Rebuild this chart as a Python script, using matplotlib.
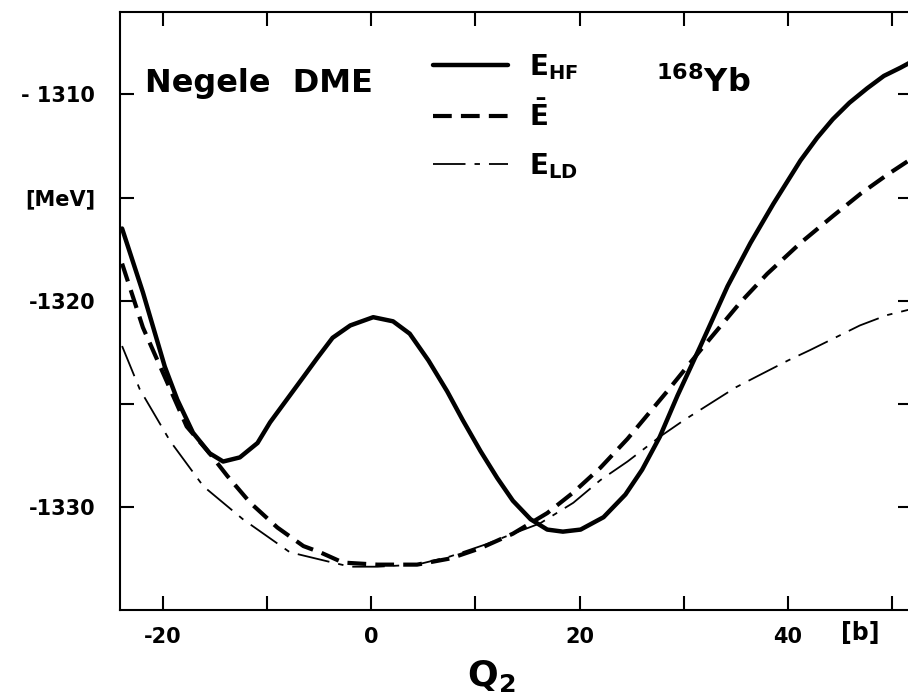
import matplotlib
matplotlib.use('Agg')
import matplotlib.pyplot as plt

plt.rcParams['font.family'] = ['DejaVu Sans']
plt.rcParams['font.weight'] = 'bold'
plt.rcParams['mathtext.fontset'] = 'dejavusans'

# quadrupole moment Q2 [b] and energies [MeV]
q_hf = [-23.9, -21.9, -19.8, -18.6, -17.1, -15.5, -14.2, -12.6, -10.9, -9.7,
        -8.1, -6.5, -5.2, -3.7, -2.0, 0.2, 2.1, 3.7, 5.5, 7.3, 8.8, 10.5,
        12.1, 13.6, 15.3, 16.9, 18.4, 20.1, 22.3, 24.4, 26.0, 27.7, 29.4,
        31.6, 34.2, 36.4, 38.6, 41.2, 42.8, 44.3, 45.9, 47.6, 49.2, 50.8, 51.9]
e_hf = [-1316.5, -1319.6, -1323.2, -1324.8, -1326.4, -1327.4, -1327.8, -1327.6,
        -1326.9, -1325.9, -1324.8, -1323.7, -1322.8, -1321.8, -1321.2, -1320.8,
        -1321.0, -1321.6, -1322.9, -1324.4, -1325.8, -1327.3, -1328.6, -1329.7,
        -1330.6, -1331.1, -1331.2, -1331.1, -1330.5, -1329.4, -1328.2, -1326.6,
        -1324.6, -1322.2, -1319.3, -1317.2, -1315.3, -1313.2, -1312.1, -1311.2,
        -1310.4, -1309.7, -1309.1, -1308.7, -1308.4]

q_bar = [-23.9, -21.9, -19.8, -17.7, -15.5, -13.8, -11.6, -9.0, -6.5, -4.9,
         -2.7, 0.6, 4.4, 7.6, 10.5, 13.6, 16.9, 19.4, 22.0, 24.6, 28.4, 31.6,
         35.4, 38.0, 41.2, 44.3, 47.0, 49.5, 51.9]
e_bar = [-1318.2, -1321.3, -1323.7, -1326.1, -1327.4, -1328.5, -1329.8, -1331.0,
         -1331.9, -1332.2, -1332.7, -1332.8, -1332.8, -1332.5, -1332.0, -1331.3,
         -1330.3, -1329.3, -1328.1, -1326.7, -1324.4, -1322.4, -1320.1, -1318.7,
         -1317.2, -1315.9, -1314.8, -1313.9, -1313.1]

q_ld = [-23.9, -22.2, -19.3, -16.1, -12.3, -7.8, -3.7, -2.0, 0.6, 4.4, 7.6,
        11.1, 13.6, 16.2, 19.4, 22.0, 24.6, 27.7, 30.0, 32.5, 35.0, 37.3,
        40.0, 42.1, 44.5, 46.9, 49.5, 51.9]
e_ld = [-1322.2, -1324.3, -1326.8, -1329.0, -1330.6, -1332.2, -1332.7, -1332.9,
        -1332.9, -1332.8, -1332.4, -1331.8, -1331.3, -1330.8, -1329.8, -1328.7,
        -1327.8, -1326.6, -1325.8, -1325.0, -1324.2, -1323.6, -1322.9, -1322.4,
        -1321.8, -1321.2, -1320.7, -1320.4]

x_ticks = [-20, -10, 0, 10, 20, 30, 40, 50]
x_tick_labels = ['-20', '', '0', '', '20', '', '40', '']
y_ticks = [-1330, -1325, -1320, -1315, -1310]
y_tick_labels = ['-1330', '', '-1320', '[MeV]', '- 1310']

fig = plt.figure(figsize=(9.08, 6.98), dpi=100)
# right spine sits just outside the picture, as in the scanned original
ax = fig.add_axes([120 / 908, 88 / 698, 792 / 908, 598 / 698])

ax.plot(q_hf, e_hf, color='black', lw=3.2, solid_capstyle='round',
        solid_joinstyle='round', label=r'$\mathbf{E}_{\mathbf{HF}}$')
ax.plot(q_bar, e_bar, color='black', lw=3, dashes=(4.5, 2.2),
        label=r'$\bar{\mathbf{E}}$')
ax.plot(q_ld, e_ld, color='black', lw=1.3, dashes=(18, 5, 3, 5),
        label=r'$\mathbf{E}_{\mathbf{LD}}$')

ax.set_xlim(-24.1, 51.9)
ax.set_ylim(-1335, -1306)

ax.set_xticks(x_ticks)
ax.set_xticklabels(x_tick_labels)
ax.set_yticks(y_ticks)
ax.set_yticklabels(y_tick_labels)
ax.tick_params(direction='in', length=10, width=1.5, top=True, right=True,
               labelsize=15)
ax.tick_params(axis='x', pad=12)
ax.tick_params(axis='y', pad=18)
for s in ax.spines.values():
    s.set_linewidth(1.5)

ax.text(-21.7, -1309.9, 'Negele  DME', fontsize=23, fontweight='bold',
        va='baseline')
ax.text(27.3, -1309.9, r'$^{\mathbf{168}}\mathbf{Yb}$', fontsize=23,
        va='baseline')

ax.legend(loc='upper left', bbox_to_anchor=(433 / 908, 1 - 52 / 698),
          bbox_transform=fig.transFigure, frameon=False, borderpad=0,
          borderaxespad=0, handlelength=2.7, handletextpad=0.75,
          labelspacing=0.68, fontsize=20)

fig.text(860 / 908, 1 - 633 / 698, '[b]', fontsize=17, fontweight='bold',
         ha='center', va='center')
fig.text(467 / 908, 1 - 686 / 698, r'$\mathbf{Q}_{\mathbf{2}}$', fontsize=26,
         va='baseline')

fig.savefig('out.png', dpi=100)
